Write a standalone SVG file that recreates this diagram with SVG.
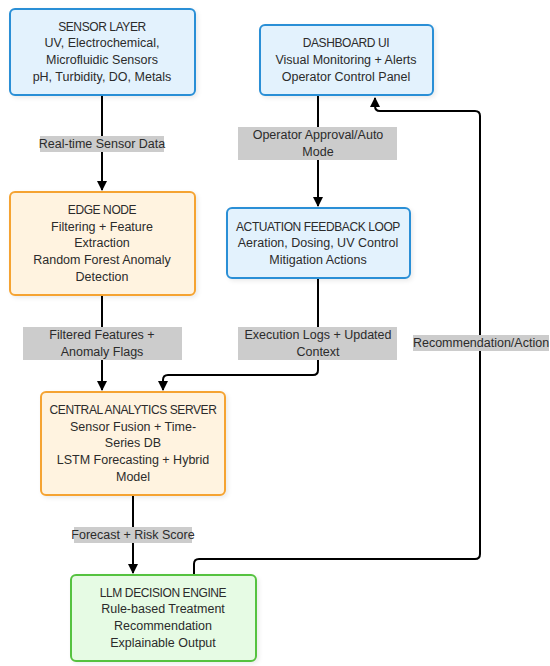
<svg xmlns="http://www.w3.org/2000/svg" width="550" height="666" viewBox="0 0 550 666">
<defs>
<marker id="ah" viewBox="0 0 10 10" refX="9" refY="5" markerWidth="5" markerHeight="5" orient="auto-start-reverse" markerUnits="strokeWidth">
<path d="M0,0 L10,5 L0,10 z" fill="#000"/>
</marker>
<filter id="sh" x="-10%" y="-10%" width="125%" height="130%">
<feDropShadow dx="2" dy="2" stdDeviation="2" flood-color="#000" flood-opacity="0.08"/>
</filter>
</defs>
<style>
text{font-family:"Liberation Sans",Arial,sans-serif;font-size:12.5px;fill:#2b2b2b;text-anchor:middle;dominant-baseline:central}
text.t{font-size:12px;letter-spacing:-0.4px}
.blue{fill:#e3f2fd;stroke:#2a8fd6;stroke-width:2}
.orange{fill:#fff3e0;stroke:#f5a330;stroke-width:2}
.green{fill:#e6fbe4;stroke:#55c23f;stroke-width:2}
.lbl{fill:#cccccc}
.edge{fill:none;stroke:#000;stroke-width:2;marker-end:url(#ah)}
</style>
<rect width="550" height="666" fill="#fff"/>
<g id="connectors">
<path class="edge" d="M102,95 V190"/>
<path class="edge" d="M102,295 V390"/>
<path class="edge" d="M318,95 V206"/>
<path class="edge" d="M318,278 V370 Q318,375 313,375 H168 Q163,375 163,380 V390"/>
<path class="edge" d="M133,495 V573"/>
<path class="edge" d="M194,575 V564 Q194,559 199,559 H475 Q480,559 480,554 V116 Q480,111 475,111 H380 Q375,111 375,106 V98"/>
<rect class="lbl" x="40" y="136" width="124" height="16"/>
<text x="102" y="144">Real-time Sensor Data</text>
<rect class="lbl" x="23" y="327" width="159" height="33"/>
<text x="102" y="335">Filtered Features +</text>
<text x="102" y="352">Anomaly Flags</text>
<rect class="lbl" x="238" y="127" width="159" height="33"/>
<text x="318" y="135">Operator Approval/Auto</text>
<text x="318" y="152">Mode</text>
<rect class="lbl" x="238" y="327" width="159" height="33"/>
<text x="318" y="335">Execution Logs + Updated</text>
<text x="318" y="352">Context</text>
<rect class="lbl" x="413" y="335" width="136" height="16"/>
<text x="481" y="343">Recommendation/Action</text>
<rect class="lbl" x="74" y="527" width="118" height="16"/>
<text x="133" y="535">Forecast + Risk Score</text>
</g>
<g id="sensor">
<rect class="blue" x="10" y="9" width="185" height="86" rx="5" filter="url(#sh)"/>
<text class="t" x="102" y="27">SENSOR LAYER</text>
<text x="102" y="43">UV, Electrochemical,</text>
<text x="102" y="60">Microfluidic Sensors</text>
<text x="102" y="77">pH, Turbidity, DO, Metals</text>
</g>
<g id="edge-node">
<rect class="orange" x="10" y="192" width="185" height="103" rx="5" filter="url(#sh)"/>
<text class="t" x="102" y="210">EDGE NODE</text>
<text x="102" y="227">Filtering + Feature</text>
<text x="102" y="243">Extraction</text>
<text x="102" y="260">Random Forest Anomaly</text>
<text x="102" y="277">Detection</text>
</g>
<g id="dashboard">
<rect class="blue" x="260" y="25" width="173" height="70" rx="5" filter="url(#sh)"/>
<text class="t" x="346" y="43">DASHBOARD UI</text>
<text x="346" y="60">Visual Monitoring + Alerts</text>
<text x="346" y="77">Operator Control Panel</text>
</g>
<g id="actuation">
<rect class="blue" x="227" y="208" width="183" height="70" rx="5" filter="url(#sh)"/>
<text class="t" x="318" y="227">ACTUATION FEEDBACK LOOP</text>
<text x="318" y="243">Aeration, Dosing, UV Control</text>
<text x="318" y="260">Mitigation Actions</text>
</g>
<g id="central">
<rect class="orange" x="41" y="392" width="184" height="103" rx="5" filter="url(#sh)"/>
<text class="t" x="133" y="410">CENTRAL ANALYTICS SERVER</text>
<text x="133" y="427">Sensor Fusion + Time-</text>
<text x="133" y="443">Series DB</text>
<text x="133" y="460">LSTM Forecasting + Hybrid</text>
<text x="133" y="477">Model</text>
</g>
<g id="llm">
<rect class="green" x="71" y="575" width="185" height="86" rx="5" filter="url(#sh)"/>
<text class="t" x="163" y="593">LLM DECISION ENGINE</text>
<text x="163" y="609">Rule-based Treatment</text>
<text x="163" y="626">Recommendation</text>
<text x="163" y="643">Explainable Output</text>
</g>
</svg>
